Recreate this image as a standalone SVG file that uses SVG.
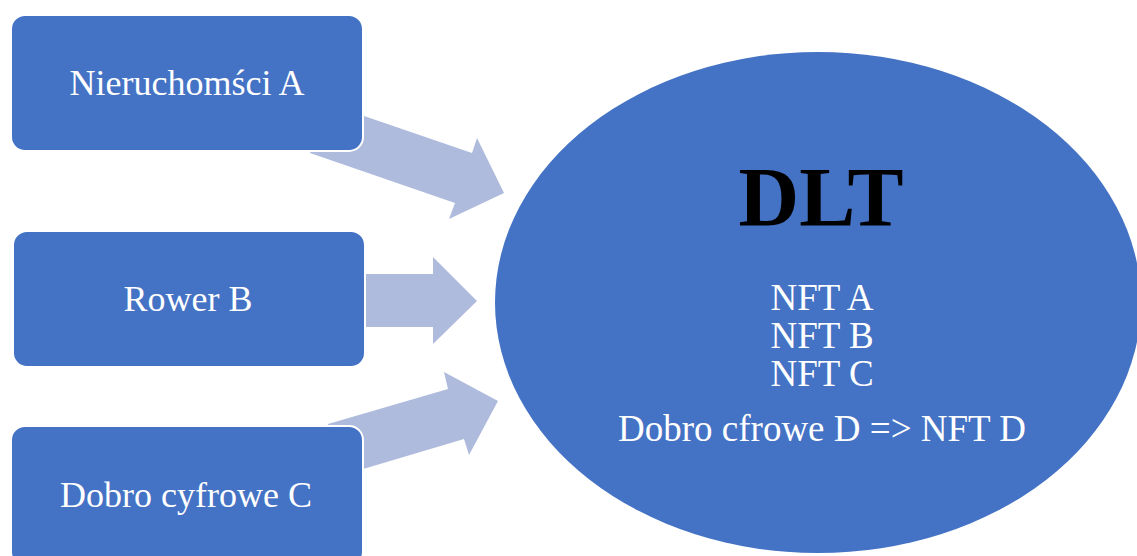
<svg xmlns="http://www.w3.org/2000/svg" width="1137" height="556" viewBox="0 0 1137 556">
  <style>
    .box { fill: #4472C4; stroke: #FFFFFF; stroke-width: 2; }
    .arrow { fill: #AFBBDD; }
    .label { font-family: "Liberation Serif", "Times New Roman", serif; font-size: 36px; fill: #FFFFFF; text-anchor: middle; }
    .inner { font-size: 37px; }
    .title { font-family: "Liberation Serif", "Times New Roman", serif; font-size: 84px; font-weight: bold; fill: #000000; text-anchor: middle; }
  </style>
  <rect width="1137" height="556" fill="#FFFFFF"/>

  <!-- block arrows pointing into the ledger -->
  <g id="connectors">
    <polygon class="arrow" points="327,103 367,117 472,153 477,138 504,193 449,219 455,203 310,153"/>
    <polygon class="arrow" points="340,274 433,274 433,257 477,301 433,344 433,327 340,327"/>
    <polygon class="arrow" points="328,424 448,389 444,372 498,401 469,455 464,439 343,475"/>
  </g>

  <g id="node-nieruchomosci">
    <rect class="box" x="11" y="15" width="352" height="136" rx="14"/>
    <text class="label" x="187" y="95">Nieruchomści A</text>
  </g>

  <g id="node-rower">
    <rect class="box" x="13" y="231" width="352" height="136" rx="14"/>
    <text class="label" x="188" y="311">Rower B</text>
  </g>

  <g id="node-dobro">
    <rect class="box" x="11" y="426" width="352" height="140" rx="14"/>
    <text class="label" x="186" y="507">Dobro cyfrowe C</text>
  </g>

  <g id="node-dlt">
    <ellipse cx="818" cy="302.5" rx="323" ry="250.5" fill="#4472C4"/>
    <text class="title" x="821" y="226">DLT</text>
    <text class="label inner" x="822" y="310">NFT A</text>
    <text class="label inner" x="822" y="348">NFT B</text>
    <text class="label inner" x="822" y="386">NFT C</text>
    <text class="label inner" x="822" y="441">Dobro cfrowe D =&gt; NFT D</text>
  </g>
</svg>
